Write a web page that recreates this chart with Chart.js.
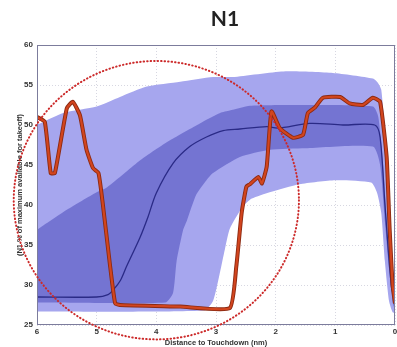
<!DOCTYPE html>
<html>
<head>
<meta charset="utf-8">
<script src="https://cdn.jsdelivr.net/npm/chart.js@4"></script>
<style>
  html, body { margin: 0; padding: 0; background: #fff; }
  #wrap { width: 397px; height: 347px; }
</style>
</head>
<body>
<div id="wrap"><canvas id="n1Chart"></canvas></div>
<script>
// values: [distance to touchdown (nm), N1 %]
const actualN1 = [[6,51],[5.87,50.4],[5.77,44],[5.7,44],[5.5,52.1],[5.4,52.9],[5.28,51.2],[5.17,46.9],[5.06,44.6],[4.97,44],[4.9,40.3],[4.78,32.7],[4.69,27.7],[4.61,27.5],[3.6,27.3],[2.77,27.1],[2.66,32.3],[2.57,39],[2.49,42.3],[2.43,42.6],[2.29,43.5],[2.23,42.7],[2.15,44.8],[2.07,51.7],[1.93,49.6],[1.71,48.4],[1.54,48.8],[1.46,51.5],[1.34,52.2],[1.21,53.4],[0.92,53.5],[0.76,52.7],[0.54,52.5],[0.37,53.4],[0.25,52.9],[0.14,46],[0.09,37],[0.04,30],[0,27.7]];
const meanN1 = [[6,28.5],[5.0,28.5],[4.81,28.8],[4.72,29.4],[4.6,30.6],[4.5,32.3],[4.27,36],[4.14,38.5],[4.0,41.5],[3.72,45.2],[3.44,47.3],[3.16,48.5],[2.88,49.3],[2.6,49.5],[2.15,49.8],[1.96,49.6],[1.43,50.2],[0.87,50],[0.34,50],[0.25,48.5],[0.17,40.2],[0.06,29.8],[0,28]];
const innerUpper = [[6,36.9],[5.5,39.4],[5.0,41.6],[4.83,42.2],[4.5,44.2],[4.27,45.6],[4.0,47],[3.77,48.1],[3.27,50.2],[2.93,51.5],[2.77,51.8],[2.43,52.4],[1.5,52.5],[0.37,52.3],[0.28,51],[0.2,45],[0.12,36],[0.05,29],[0,27.5]];
const innerLower = [[6,27.8],[3.85,27.8],[3.72,29],[3.66,33],[3.55,36.9],[3.49,38],[3.33,41.3],[3.16,43.1],[3.05,44],[2.6,46],[2.1,46.9],[1.5,47.1],[0.37,47.3],[0.25,45],[0.17,38],[0.1,32],[0.03,27.5],[0,27]];
const outerUpper = [[6,50.1],[5.95,50.2],[5.56,51.5],[5.0,52.3],[4.61,53.5],[4.16,54.8],[3.6,55.4],[3.05,56],[2.72,56],[1.87,56.7],[1.04,56.5],[0.37,55.8],[0.28,55.2],[0.23,54.4],[0.18,50],[0.14,44],[0.1,36],[0.05,29],[0,27]];
const outerLower = [[6,26.7],[3.2,26.8],[3.05,28],[2.95,31],[2.85,34.5],[2.77,37],[2.55,39.8],[2.4,40.8],[2.1,41.6],[1.6,42.6],[1.0,43.1],[0.4,42.8],[0.3,41.5],[0.23,39],[0.17,33],[0.1,28],[0.04,26.6],[0,26.5]];
// highlight circle: centre (nm, %), radius (nm, %)
const circleCentre = [4.0, 40.6];
const circleRadius = [2.39, 17.4];

const pts = arr => arr.map(p => ({ x: p[0], y: p[1] }));

const band = (data, fill, color) => ({
  data: pts(data),
  fill: fill,
  backgroundColor: color,
  borderWidth: 0,
  borderColor: "rgba(0,0,0,0)",
  pointRadius: 0,
  tension: 0.2
});

// title + box + dotted circle
const extras = {
  id: "extras",
  afterDatasetsDraw(chart) {
    const { ctx, chartArea: a, scales: { x, y } } = chart;
    ctx.save();
    ctx.strokeStyle = "#7c7c9c";
    ctx.lineWidth = 1;
    ctx.strokeRect(a.left + 0.5, a.top + 0.5, a.right - a.left - 1, a.bottom - a.top - 1);

    const cx = x.getPixelForValue(circleCentre[0]);
    const cy = y.getPixelForValue(circleCentre[1]);
    const rx = Math.abs(x.getPixelForValue(circleCentre[0] + circleRadius[0]) - cx);
    const ry = Math.abs(y.getPixelForValue(circleCentre[1] + circleRadius[1]) - cy);
    ctx.beginPath();
    ctx.ellipse(cx, cy, rx, ry, 0, 0, Math.PI * 2);
    ctx.strokeStyle = "#cc2a2a";
    ctx.lineWidth = 2;
    ctx.lineCap = "round";
    ctx.setLineDash([0.5, 3]);
    ctx.stroke();
    ctx.setLineDash([]);

    ctx.fillStyle = "#222";
    ctx.font = "bold 21px Lato";
    ctx.textAlign = "center";
    ctx.textBaseline = "middle";
    ctx.fillText("N1", (a.left + a.right) / 2 + 9, 19);
    ctx.restore();
  }
};

new Chart(document.getElementById("n1Chart"), {
  type: "line",
  data: {
    datasets: [
      { data: pts(actualN1), borderColor: "#d2451e", borderWidth: 2.2, pointRadius: 0, fill: false, tension: 0.15 },
      { data: pts(actualN1), borderColor: "#8c2a12", borderWidth: 4, pointRadius: 0, fill: false, tension: 0.15 },
      { data: pts(meanN1), borderColor: "#2a2a86", borderWidth: 1.3, pointRadius: 0, fill: false, tension: 0.3 },
      band(innerUpper, "+1", "#7474d2"),
      band(innerLower, false, "#7474d2"),
      band(outerUpper, "+1", "#a6a6ee"),
      band(outerLower, false, "#a6a6ee")
    ]
  },
  options: {
    responsive: true,
    maintainAspectRatio: false,
    animation: false,
    layout: { padding: { top: 45, right: 2, left: 0, bottom: 0 } },
    plugins: {
      legend: { display: false },
      tooltip: { enabled: false },
      filler: { drawTime: "beforeDatasetsDraw" }
    },
    scales: {
      x: {
        type: "linear",
        reverse: true,
        min: 0,
        max: 6,
        z: 1,
        ticks: { stepSize: 1, padding: 2, color: "#333", font: { family: "Liberation Sans", size: 8, weight: "bold" } },
        grid: { color: "rgba(140,140,170,0.35)", drawTicks: false },
        border: { display: false, dash: [1, 2] },
        title: { display: true, text: "Distance to Touchdown (nm)", color: "#333", padding: 0, font: { family: "Liberation Sans", size: 7.5, weight: "bold" } },
        afterFit(s) { s.height = 22; s.paddingLeft = 0; s.paddingRight = 0; }
      },
      y: {
        min: 25,
        max: 60,
        z: 1,
        ticks: { stepSize: 5, padding: 4, color: "#333", font: { family: "Liberation Sans", size: 8, weight: "bold" } },
        grid: { color: "rgba(140,140,170,0.35)", drawTicks: false },
        border: { display: false, dash: [1, 2] },
        title: { display: true, text: "(N1 % of maximum available for takeoff)", color: "#333", padding: { top: 15, bottom: 0 }, font: { family: "Liberation Sans", size: 7.5, weight: "bold" } },
        afterFit(s) { s.width = 37; s.paddingTop = 0; s.paddingBottom = 0; }
      }
    }
  },
  plugins: [extras]
});
</script>
</body>
</html>
